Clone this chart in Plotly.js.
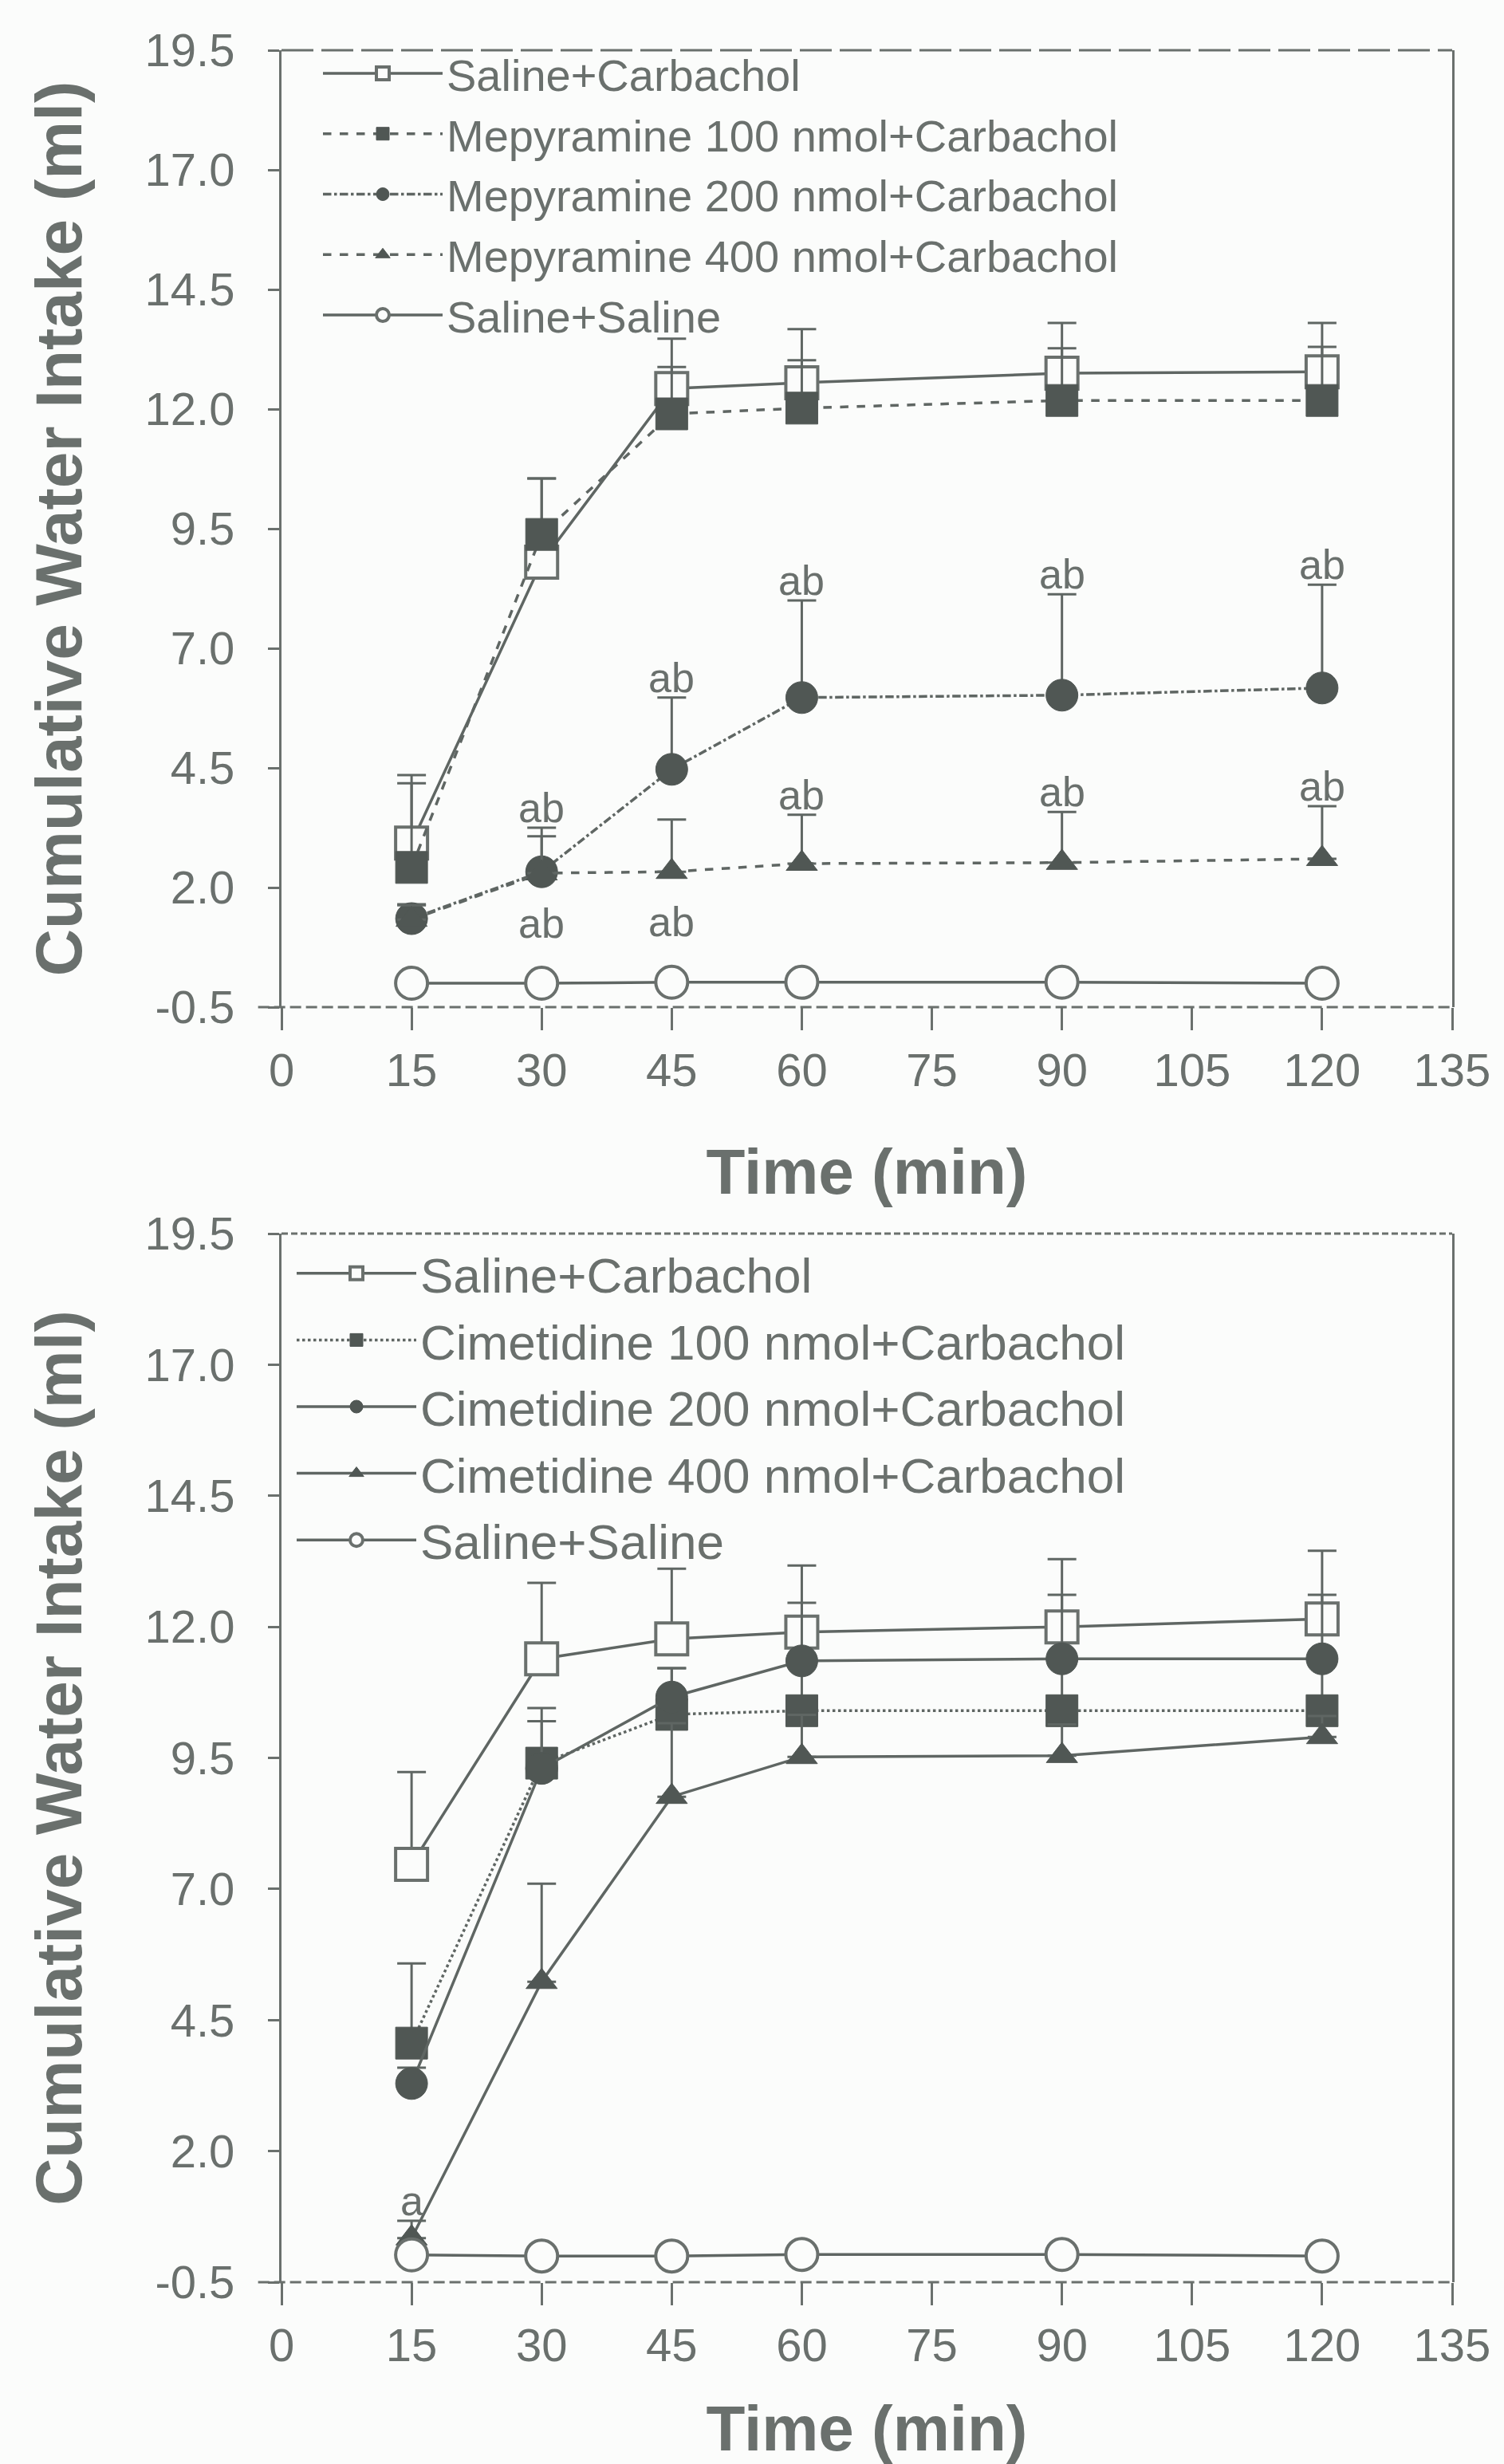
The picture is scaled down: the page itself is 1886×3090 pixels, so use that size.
<!DOCTYPE html>
<html>
<head>
<meta charset="utf-8">
<script src="https://cdn.plot.ly/plotly-3.0.1.min.js"></script>
<style>
html,body{margin:0;padding:0;background:#fbfcfb;}
#chart{width:1886px;height:3090px;}
</style>
</head>
<body>
<div id="chart"></div>
<script>
// ---------- data ----------
const time = [15, 30, 45, 60, 90, 120];

// Panel A: Mepyramine
const salCarbTop     = [2.93, 8.80, 12.43, 12.55, 12.75, 12.78];
const salCarbTopErr  = [1.42, 1.75, 1.04, 1.12, 1.05, 1.02];
const mep100         = [2.42, 9.38, 11.90, 12.02, 12.18, 12.18];
const mep100Err      = [1.76, 1.17, 0.98, 1.00, 1.09, 1.12];
const mep200         = [1.35, 2.33, 4.47, 5.97, 6.02, 6.17];
const mep200Err      = [0.30, 0.92, 1.50, 2.03, 2.11, 2.16];
const mep400         = [1.33, 2.30, 2.33, 2.50, 2.52, 2.60];
const mep400Err      = [0.30, 0.77, 1.09, 1.02, 1.06, 1.10];
const salSalTop      = [0.00, 0.00, 0.02, 0.02, 0.02, 0.00];
const mep200LabelAbove = ['', 'ab', 'ab', 'ab', 'ab', 'ab'];
const mep400LabelAbove = ['', '', '', 'ab', 'ab', 'ab'];
const mep400LabelBelow = ['', 'ab', 'ab', '', '', ''];

// Panel B: Cimetidine
const salCarbBot     = [7.47, 11.39, 11.77, 11.90, 12.00, 12.15];
const salCarbBotErr  = [1.76, 1.45, 1.34, 1.27, 1.29, 1.30];
const cim100         = [4.06, 9.40, 10.33, 10.40, 10.40, 10.40];
const cim100Err      = [1.52, 1.05, 0.88, 0.90, 0.95, 0.95];
const cim200         = [3.29, 9.30, 10.66, 11.35, 11.39, 11.39];
const cim200Err      = [0.30, 0.90, 0.55, 1.11, 1.22, 1.22];
const cim400         = [0.34, 5.23, 8.76, 9.52, 9.54, 9.90];
const cim400Err      = [0.33, 1.87, 1.40, 0.80, 0.60, 0.40];
const salSalBot      = [0.02, 0.00, 0.00, 0.03, 0.03, 0.00];
const cim400LabelAbove = ['a', '', '', '', '', ''];

const xTicks = [0, 15, 30, 45, 60, 75, 90, 105, 120, 135];
const yTicks = [-0.5, 2.0, 4.5, 7.0, 9.5, 12.0, 14.5, 17.0, 19.5];

// ---------- style ----------
const INK = '#6a706d';
const LINE = '#5f6663';
const FILL = '#505754';
const FONT = 'Liberation Sans, Arial, sans-serif';
const MS = 40;

function series(name, y, err, sym, open, dash, xa, ya, leg) {
  const t = {
    type: 'scatter', mode: 'lines+markers', name: name,
    x: time, y: y, xaxis: xa, yaxis: ya, legend: leg,
    line: {color: LINE, width: 3.5, dash: dash},
    marker: {
      symbol: sym, size: sym === 'triangle-up' ? 34 : MS,
      color: open ? '#fbfcfb' : FILL,
      line: {color: open ? INK : FILL, width: open ? 4 : 1}
    },
    cliponaxis: false
  };
  if (err) {
    t.error_y = {type: 'data', symmetric: false, array: err,
      arrayminus: err.map(() => 0), color: LINE, thickness: 3, width: 18};
  }
  return t;
}

const traces = [
  series('Saline+Carbachol', salCarbTop, salCarbTopErr, 'square', true, 'solid', 'x', 'y', 'legend'),
  series('Mepyramine 100 nmol+Carbachol', mep100, mep100Err, 'square', false, 'dash', 'x', 'y', 'legend'),
  series('Mepyramine 200 nmol+Carbachol', mep200, mep200Err, 'circle', false, 'dashdot', 'x', 'y', 'legend'),
  series('Mepyramine 400 nmol+Carbachol', mep400, mep400Err, 'triangle-up', false, 'dash', 'x', 'y', 'legend'),
  series('Saline+Saline', salSalTop, null, 'circle', true, 'solid', 'x', 'y', 'legend'),
  series('Saline+Carbachol', salCarbBot, salCarbBotErr, 'square', true, 'solid', 'x2', 'y2', 'legend2'),
  series('Cimetidine 100 nmol+Carbachol', cim100, cim100Err, 'square', false, 'dot', 'x2', 'y2', 'legend2'),
  series('Cimetidine 200 nmol+Carbachol', cim200, cim200Err, 'circle', false, 'solid', 'x2', 'y2', 'legend2'),
  series('Cimetidine 400 nmol+Carbachol', cim400, cim400Err, 'triangle-up', false, 'solid', 'x2', 'y2', 'legend2'),
  series('Saline+Saline', salSalBot, null, 'circle', true, 'solid', 'x2', 'y2', 'legend2')
];

// ---------- annotations (significance letters) ----------
const annotations = [];
function labelsAbove(labels, vals, errs, xref, yref) {
  labels.forEach((s, i) => {
    if (!s) return;
    annotations.push({text: s, x: time[i], y: vals[i] + errs[i], xref: xref, yref: yref,
      yanchor: 'bottom', yshift: -6, showarrow: false,
      font: {family: FONT, size: 52, color: INK}});
  });
}
function labelsBelow(labels, vals, xref, yref) {
  labels.forEach((s, i) => {
    if (!s) return;
    annotations.push({text: s, x: time[i], y: vals[i], xref: xref, yref: yref,
      yanchor: 'top', yshift: -32, showarrow: false,
      font: {family: FONT, size: 52, color: INK}});
  });
}
labelsAbove(mep200LabelAbove, mep200, mep200Err, 'x', 'y');
labelsAbove(mep400LabelAbove, mep400, mep400Err, 'x', 'y');
labelsBelow(mep400LabelBelow, mep400, 'x', 'y');
labelsAbove(cim400LabelAbove, cim400, cim400Err, 'x2', 'y2');

// ---------- axes ----------
function xAxis(domain, anchor, standoff) {
  return {
    domain: domain, anchor: anchor, range: [0, 135],
    tickmode: 'array', tickvals: xTicks, ticktext: xTicks.map(String),
    ticks: 'outside', ticklen: 28, tickwidth: 3, tickcolor: INK,
    showline: false, showgrid: false, zeroline: false,
    tickfont: {family: FONT, size: 58, color: INK},
    ticklabelstandoff: 0,
    title: {text: 'Time (min)', font: {family: FONT, size: 80, color: INK, weight: 'bold'}, standoff: standoff}
  };
}
function yAxis(domain, anchor) {
  return {
    domain: domain, anchor: anchor, range: [-0.5, 19.5],
    tickmode: 'array', tickvals: yTicks, ticktext: yTicks.map(v => v.toFixed(1)),
    ticks: 'outside', ticklen: 14, tickwidth: 3, tickcolor: INK,
    showline: true, mirror: true, linecolor: INK, linewidth: 3,
    showgrid: false, zeroline: false,
    tickfont: {family: FONT, size: 58, color: INK},
    ticklabelstandoff: 30,
    title: {text: 'Cumulative Water Intake (ml)', font: {family: FONT, size: 82, color: INK, weight: 'bold'}, standoff: 52}
  };
}

const xDom = [353 / 1886, 1821 / 1886];
const layout = {
  width: 1886, height: 3090, autosize: false,
  margin: {l: 0, r: 0, t: 0, b: 0},
  paper_bgcolor: '#fbfcfb', plot_bgcolor: '#fbfcfb',
  font: {family: FONT, color: INK},
  showlegend: true,
  xaxis: xAxis(xDom, 'y', 68),
  yaxis: yAxis([1 - 1263 / 3090, 1 - 63 / 3090], 'x'),
  xaxis2: xAxis(xDom, 'y2', 90),
  yaxis2: yAxis([1 - 2862 / 3090, 1 - 1547 / 3090], 'x2'),
  legend: {x: 400 / 1886, xanchor: 'left', y: 1 - 49 / 3090, yanchor: 'top',
    bgcolor: 'rgba(0,0,0,0)', borderwidth: 0, itemwidth: 150, tracegroupgap: 0,
    font: {family: FONT, size: 56, color: INK}},
  legend2: {x: 367 / 1886, xanchor: 'left', y: 1 - 1550 / 3090, yanchor: 'top',
    bgcolor: 'rgba(0,0,0,0)', borderwidth: 0, itemwidth: 150, tracegroupgap: 0,
    font: {family: FONT, size: 62, color: INK}},
  annotations: annotations,
  shapes: [
    {type: 'line', xref: 'x domain', yref: 'y domain', x0: 0, x1: 1, y0: 1, y1: 1,
      line: {color: INK, width: 3, dash: '40px,10px'}},
    {type: 'line', xref: 'x domain', yref: 'y domain', x0: -0.02, x1: 1, y0: 0, y1: 0,
      line: {color: INK, width: 3, dash: '14px,6px'}},
    {type: 'line', xref: 'x2 domain', yref: 'y2 domain', x0: 0, x1: 1, y0: 1, y1: 1,
      line: {color: INK, width: 3, dash: '8px,4px'}},
    {type: 'line', xref: 'x2 domain', yref: 'y2 domain', x0: -0.02, x1: 1, y0: 0, y1: 0,
      line: {color: INK, width: 3, dash: '14px,6px'}}
  ]
};

Plotly.newPlot('chart', traces, layout, {displayModeBar: false, staticPlot: true});
</script>
</body>
</html>
